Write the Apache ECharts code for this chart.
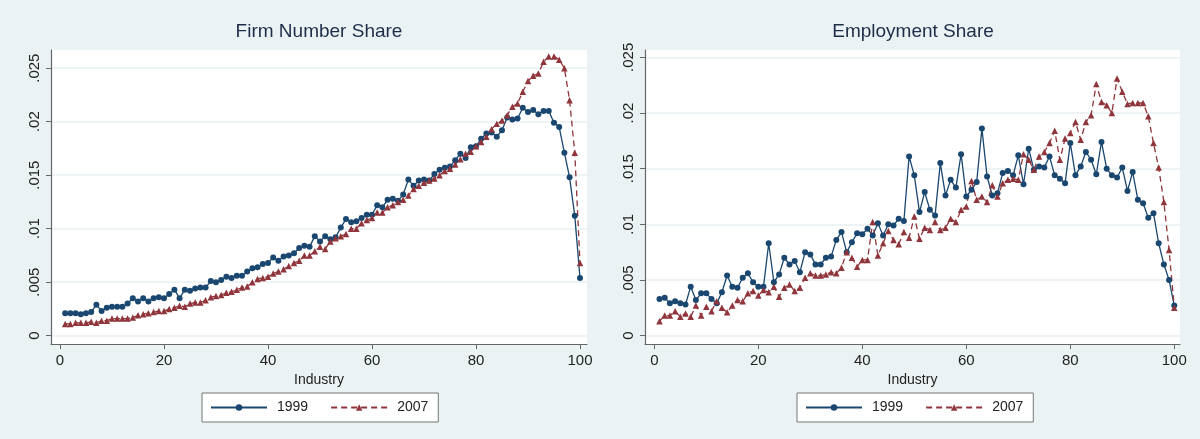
<!DOCTYPE html>
<html>
<head>
<meta charset="utf-8">
<title>Firm Number Share / Employment Share</title>
<script src="https://cdn.jsdelivr.net/npm/echarts@6/dist/echarts.min.js"></script>
<style>
html,body{margin:0;padding:0;background:#fff;}
#chart{width:1200px;height:439px;}
</style>
</head>
<body>
<div id="chart"></div>
<script>
// industry index (x)
var industry = [1,2,3,4,5,6,7,8,9,10,11,12,13,14,15,16,17,18,19,20,
	21,22,23,24,25,26,27,28,29,30,31,32,33,34,35,36,37,38,39,40,
	41,42,43,44,45,46,47,48,49,50,51,52,53,54,55,56,57,58,59,60,
	61,62,63,64,65,66,67,68,69,70,71,72,73,74,75,76,77,78,79,80,
	81,82,83,84,85,86,87,88,89,90,91,92,93,94,95,96,97,98,99,100];

// Firm Number Share
var firm1999 = [0.0021,0.0021,0.0021,0.0020,0.0021,0.0022,0.0029,0.0023,0.0026,0.0027,
	0.0027,0.0027,0.0030,0.0035,0.0032,0.0035,0.0032,0.0035,0.0036,0.0035,
	0.0039,0.0043,0.0035,0.0043,0.0042,0.0044,0.0045,0.0045,0.0051,0.0050,
	0.0052,0.0055,0.0054,0.0056,0.0056,0.0060,0.0063,0.0064,0.0067,0.0068,
	0.0073,0.0070,0.0074,0.0075,0.0077,0.0082,0.0084,0.0083,0.0093,0.0088,
	0.0093,0.0090,0.0092,0.0101,0.0109,0.0106,0.0107,0.0110,0.0113,0.0113,
	0.0122,0.0120,0.0127,0.0128,0.0126,0.0132,0.0146,0.0140,0.0145,0.0146,
	0.0145,0.0151,0.0155,0.0157,0.0158,0.0164,0.0170,0.0166,0.0176,0.0177,
	0.0184,0.0189,0.0190,0.0186,0.0192,0.0204,0.0202,0.0203,0.0213,0.0209,
	0.0211,0.0207,0.0210,0.0210,0.0199,0.0195,0.0171,0.0148,0.0112,0.0054];
var firm2007 = [0.0011,0.0011,0.0012,0.0012,0.0012,0.0013,0.0012,0.0014,0.0014,0.0016,
	0.0016,0.0016,0.0016,0.0017,0.0019,0.0020,0.0021,0.0022,0.0023,0.0023,
	0.0025,0.0026,0.0028,0.0027,0.0030,0.0031,0.0031,0.0033,0.0036,0.0037,
	0.0038,0.0040,0.0041,0.0043,0.0045,0.0046,0.0050,0.0053,0.0054,0.0055,
	0.0058,0.0060,0.0062,0.0065,0.0068,0.0070,0.0075,0.0075,0.0079,0.0083,
	0.0081,0.0088,0.0091,0.0093,0.0095,0.0100,0.0100,0.0105,0.0108,0.0110,
	0.0115,0.0115,0.0120,0.0122,0.0125,0.0127,0.0131,0.0137,0.0140,0.0143,
	0.0145,0.0147,0.0150,0.0154,0.0156,0.0160,0.0165,0.0170,0.0172,0.0177,
	0.0181,0.0186,0.0193,0.0198,0.0201,0.0206,0.0214,0.0217,0.0228,0.0238,
	0.0243,0.0245,0.0256,0.0261,0.0261,0.0258,0.0250,0.0220,0.0171,0.0068];

// Employment Share
var emp1999 = [0.0033,0.0034,0.0029,0.0031,0.0029,0.0028,0.0044,0.0032,0.0038,0.0038,
	0.0033,0.0029,0.0039,0.0054,0.0044,0.0043,0.0052,0.0056,0.0048,0.0044,
	0.0044,0.0083,0.0048,0.0055,0.0070,0.0064,0.0067,0.0057,0.0075,0.0073,
	0.0064,0.0064,0.0070,0.0071,0.0086,0.0093,0.0075,0.0084,0.0092,0.0091,
	0.0096,0.0090,0.0101,0.0090,0.0100,0.0099,0.0105,0.0103,0.0161,0.0144,
	0.0111,0.0129,0.0113,0.0108,0.0155,0.0126,0.0140,0.0133,0.0163,0.0125,
	0.0131,0.0138,0.0186,0.0143,0.0126,0.0128,0.0146,0.0148,0.0144,0.0162,
	0.0136,0.0168,0.0149,0.0152,0.0151,0.0161,0.0144,0.0141,0.0137,0.0173,
	0.0144,0.0152,0.0165,0.0158,0.0145,0.0174,0.0150,0.0144,0.0142,0.0151,
	0.0130,0.0147,0.0122,0.0119,0.0106,0.0110,0.0083,0.0064,0.0050,0.0027];
var emp2007 = [0.0013,0.0018,0.0018,0.0022,0.0017,0.0020,0.0017,0.0027,0.0018,0.0026,
	0.0022,0.0031,0.0025,0.0021,0.0027,0.0032,0.0031,0.0038,0.0040,0.0036,
	0.0041,0.0039,0.0044,0.0035,0.0043,0.0046,0.0040,0.0043,0.0052,0.0056,
	0.0054,0.0054,0.0055,0.0057,0.0056,0.0061,0.0075,0.0070,0.0062,0.0068,
	0.0068,0.0102,0.0072,0.0083,0.0094,0.0086,0.0082,0.0093,0.0088,0.0107,
	0.0087,0.0097,0.0095,0.0102,0.0095,0.0097,0.0105,0.0102,0.0113,0.0116,
	0.0139,0.0122,0.0125,0.0120,0.0135,0.0125,0.0137,0.0140,0.0141,0.0140,
	0.0163,0.0158,0.0149,0.0161,0.0165,0.0173,0.0184,0.0158,0.0177,0.0182,
	0.0192,0.0176,0.0192,0.0198,0.0226,0.0210,0.0207,0.0200,0.0231,0.0219,
	0.0208,0.0209,0.0209,0.0209,0.0197,0.0173,0.0151,0.0120,0.0077,0.0025];

var xTicks = [0, 20, 40, 60, 80, 100];
var yTicks = [0, 0.005, 0.01, 0.015, 0.02, 0.025];
var titles = ['Firm Number Share', 'Employment Share'];
var years = ['1999', '2007'];

var FONT = "'Liberation Sans', Arial, sans-serif";
var BLUE = '#1A476F', RED = '#90353B';

function pairs(ys){
	return industry.map(function(x, i){ return [x, ys[i]]; });
}

function yFmt(v){
	if (v === 0) return '0';
	return String(+v.toFixed(3)).replace(/^0\./, '.');
}

function makeX(idx, min, max){
	return {
		type: 'value', gridIndex: idx, min: min, max: max,
		name: 'Industry', nameLocation: 'middle', nameGap: 26,
		nameTextStyle: {color: '#222', fontSize: 14, fontFamily: FONT},
		axisLine: {show: true, onZero: false, lineStyle: {color: '#666', width: 1.2}},
		axisTick: {show: true, length: 5, customValues: xTicks, lineStyle: {color: '#666'}},
		axisLabel: {customValues: xTicks, margin: 9, color: '#222', fontSize: 15, fontFamily: FONT},
		splitLine: {show: false}
	};
}

function makeY(idx, min, max){
	return {
		type: 'value', gridIndex: idx, min: min, max: max,
		axisLine: {show: true, onZero: false, lineStyle: {color: '#666', width: 1.2}},
		axisTick: {show: true, length: 5, customValues: yTicks, lineStyle: {color: '#666'}},
		axisLabel: {customValues: yTicks, rotate: 90, margin: 9, color: '#222', fontSize: 15, fontFamily: FONT, formatter: yFmt},
		splitLine: {show: true, lineStyle: {color: '#E9F0F2', width: 1.5}}
	};
}

function makeSeries(name, idx, ys){
	var is99 = name === '1999';
	var c = is99 ? BLUE : RED;
	return {
		name: name, type: 'line', xAxisIndex: idx, yAxisIndex: idx,
		data: pairs(ys),
		symbol: is99 ? 'circle' : 'triangle',
		symbolSize: is99 ? 6 : 6.5,
		itemStyle: {color: c},
		lineStyle: {color: c, width: 1.3, type: is99 ? 'solid' : [6, 4]},
		clip: false,
		animation: false
	};
}

function makeLegend(left){
	return {
		left: left, top: 393,
		orient: 'horizontal',
		backgroundColor: '#fff',
		borderColor: '#777', borderWidth: 1,
		padding: [7, 10, 7, 8],
		itemWidth: 56, itemHeight: 8, itemGap: 22,
		textStyle: {color: '#222', fontSize: 14, fontFamily: FONT, padding: [0, 0, 0, 5], lineHeight: 15},
		data: years
	};
}

var chart = echarts.init(document.getElementById('chart'), null, {renderer: 'canvas'});

var option = {
	backgroundColor: '#EAF2F3',
	animation: false,
	title: [
		{text: titles[0], left: 319, top: 22, textAlign: 'center', padding: 0,
			textStyle: {color: '#1E2D4A', fontSize: 19, fontWeight: 'normal', fontFamily: FONT}},
		{text: titles[1], left: 913, top: 22, textAlign: 'center', padding: 0,
			textStyle: {color: '#1E2D4A', fontSize: 19, fontWeight: 'normal', fontFamily: FONT}}
	],
	legend: [makeLegend(202), makeLegend(797)],
	grid: [
		{left: 51, top: 50, width: 536, height: 294, show: true, backgroundColor: '#fff', borderWidth: 0},
		{left: 645, top: 50, width: 535, height: 294, show: true, backgroundColor: '#fff', borderWidth: 0}
	],
	xAxis: [makeX(0, -1.73, 101.35), makeX(1, -1.79, 101.1)],
	yAxis: [makeY(0, -0.00078, 0.0267), makeY(1, -0.00075, 0.02566)],
	series: [
		makeSeries('1999', 0, firm1999),
		makeSeries('2007', 0, firm2007),
		makeSeries('1999', 1, emp1999),
		makeSeries('2007', 1, emp2007)
	]
};
chart.setOption(option);
</script>
</body>
</html>
